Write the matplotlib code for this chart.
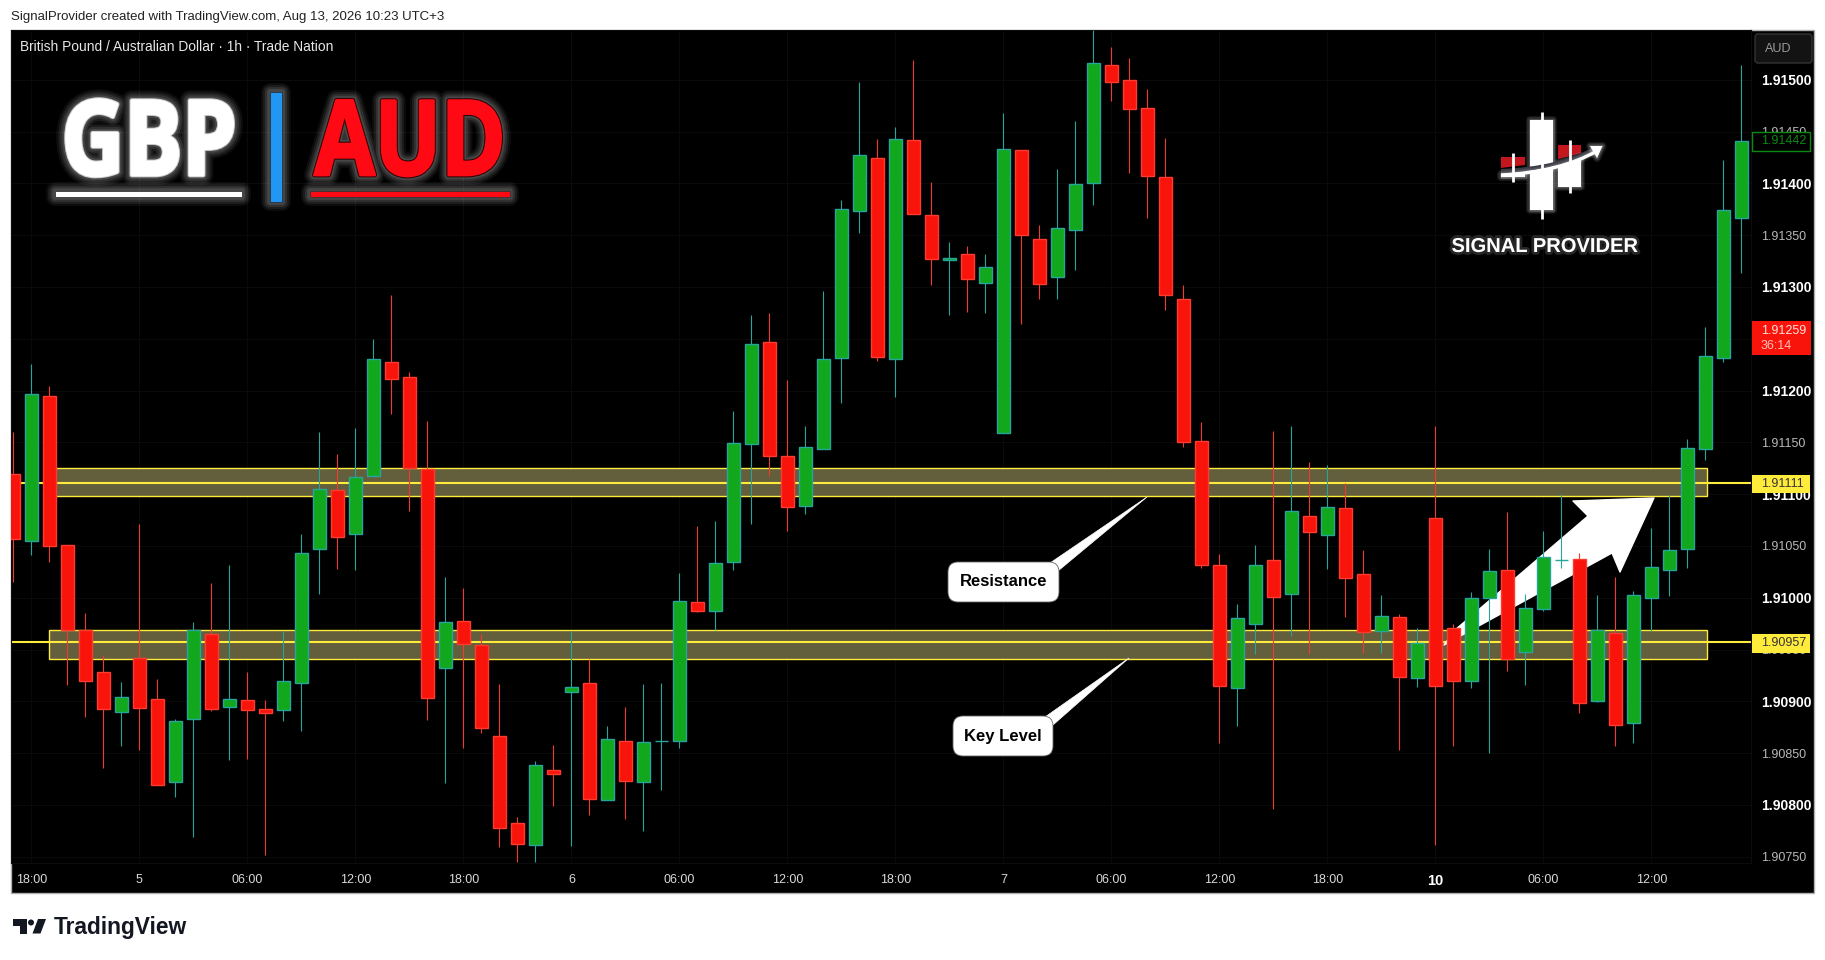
import matplotlib
matplotlib.use('Agg')
import matplotlib.pyplot as plt
import matplotlib.patheffects as pe
from matplotlib.patches import Rectangle, FancyBboxPatch, Polygon, Circle, PathPatch
from matplotlib.path import Path
from matplotlib.transforms import Affine2D

plt.rcParams['font.family'] = ['Liberation Sans', 'DejaVu Sans']

# GBP/AUD 1h candles
opens = [1.91119, 1.91055, 1.91195, 1.91051, 1.90969, 1.90928, 1.90890, 1.90942, 1.90902, 1.90822,
         1.90883, 1.90965, 1.90895, 1.90901, 1.90893, 1.90892, 1.90918, 1.91047, 1.91104, 1.91062,
         1.91118, 1.91228, 1.91213, 1.91124, 1.90932, 1.90978, 1.90954, 1.90867, 1.90783, 1.90761,
         1.90834, 1.90909, 1.90918, 1.90805, 1.90862, 1.90822, 1.90862, 1.90862, 1.90996, 1.90987,
         1.91035, 1.91148, 1.91247, 1.91137, 1.91089, 1.91144, 1.91231, 1.91373, 1.91424, 1.91230,
         1.91442, 1.91369, 1.91326, 1.91332, 1.91304, 1.91159, 1.91432, 1.91346, 1.91310, 1.91355,
         1.91400, 1.91514, 1.91500, 1.91473, 1.91406, 1.91288, 1.91151, 1.91032, 1.90913, 1.90975,
         1.91036, 1.91004, 1.91079, 1.91061, 1.91087, 1.91023, 1.90968, 1.90981, 1.90923, 1.91077,
         1.90971, 1.90920, 1.91000, 1.91027, 1.90948, 1.90989, 1.91036, 1.91037, 1.90900, 1.90966,
         1.90879, 1.91000, 1.91027, 1.91047, 1.91144, 1.91231, 1.91367]
closes = [1.91057, 1.91197, 1.91050, 1.90969, 1.90920, 1.90893, 1.90904, 1.90894, 1.90819, 1.90881,
          1.90969, 1.90893, 1.90902, 1.90892, 1.90889, 1.90920, 1.91043, 1.91105, 1.91059, 1.91117,
          1.91230, 1.91211, 1.91125, 1.90903, 1.90977, 1.90955, 1.90874, 1.90778, 1.90762, 1.90839,
          1.90830, 1.90914, 1.90806, 1.90864, 1.90823, 1.90861, 1.90862, 1.90997, 1.90987, 1.91034,
          1.91149, 1.91245, 1.91137, 1.91088, 1.91146, 1.91230, 1.91375, 1.91427, 1.91232, 1.91443,
          1.91370, 1.91327, 1.91328, 1.91308, 1.91319, 1.91433, 1.91350, 1.91303, 1.91357, 1.91399,
          1.91516, 1.91498, 1.91472, 1.91407, 1.91292, 1.91150, 1.91032, 1.90915, 1.90980, 1.91032,
          1.91001, 1.91084, 1.91063, 1.91088, 1.91019, 1.90967, 1.90982, 1.90924, 1.90956, 1.90915,
          1.90920, 1.91000, 1.91026, 1.90941, 1.90990, 1.91039, 1.91036, 1.90898, 1.90969, 1.90877,
          1.91003, 1.91030, 1.91046, 1.91145, 1.91233, 1.91374, 1.91441]
highs = [1.91160, 1.91226, 1.91204, 1.91051, 1.90985, 1.90945, 1.90919, 1.91071, 1.90922, 1.90883,
         1.90977, 1.91014, 1.91032, 1.90928, 1.90901, 1.90968, 1.91062, 1.91160, 1.91139, 1.91164,
         1.91250, 1.91292, 1.91218, 1.91171, 1.91020, 1.91009, 1.90965, 1.90917, 1.90788, 1.90842,
         1.90858, 1.90968, 1.90941, 1.90876, 1.90895, 1.90917, 1.90918, 1.91024, 1.91069, 1.91074,
         1.91180, 1.91273, 1.91275, 1.91210, 1.91166, 1.91296, 1.91384, 1.91498, 1.91443, 1.91454,
         1.91519, 1.91401, 1.91343, 1.91340, 1.91332, 1.91468, 1.91432, 1.91360, 1.91414, 1.91460,
         1.91548, 1.91532, 1.91521, 1.91491, 1.91444, 1.91302, 1.91170, 1.91042, 1.90994, 1.91051,
         1.91161, 1.91166, 1.91131, 1.91128, 1.91111, 1.91046, 1.91003, 1.90984, 1.90971, 1.91166,
         1.90975, 1.91006, 1.91047, 1.91083, 1.91004, 1.91064, 1.91100, 1.91043, 1.91003, 1.91020,
         1.91007, 1.91067, 1.91099, 1.91153, 1.91261, 1.91423, 1.91514]
lows = [1.91015, 1.91041, 1.91035, 1.90916, 1.90885, 1.90836, 1.90857, 1.90853, 1.90819, 1.90808,
        1.90769, 1.90891, 1.90843, 1.90844, 1.90752, 1.90881, 1.90871, 1.91004, 1.91028, 1.91027,
        1.91118, 1.91177, 1.91084, 1.90882, 1.90821, 1.90855, 1.90869, 1.90759, 1.90745, 1.90745,
        1.90799, 1.90760, 1.90790, 1.90805, 1.90786, 1.90775, 1.90814, 1.90855, 1.90986, 1.90969,
        1.91027, 1.91071, 1.91118, 1.91064, 1.91081, 1.91144, 1.91188, 1.91352, 1.91229, 1.91194,
        1.91370, 1.91302, 1.91273, 1.91276, 1.91275, 1.91159, 1.91264, 1.91288, 1.91288, 1.91316,
        1.91379, 1.91479, 1.91410, 1.91367, 1.91278, 1.91146, 1.91029, 1.90860, 1.90876, 1.90946,
        1.90796, 1.90963, 1.90946, 1.91028, 1.90981, 1.90947, 1.90947, 1.90853, 1.90914, 1.90761,
        1.90857, 1.90913, 1.90850, 1.90929, 1.90916, 1.90987, 1.91029, 1.90889, 1.90899, 1.90857,
        1.90860, 1.90968, 1.91002, 1.91029, 1.91133, 1.91228, 1.91313]

time_ticks = [1, 7, 13, 19, 25, 31, 37, 43, 49, 55, 61, 67, 73, 79, 85, 91]
time_labels = ['18:00', '5', '06:00', '12:00', '18:00', '6', '06:00', '12:00', '18:00', '7',
               '06:00', '12:00', '18:00', '10', '06:00', '12:00']
bold_time = ['10']

price_ticks = [1.9075, 1.9080, 1.9085, 1.9090, 1.9095, 1.9100, 1.9105, 1.9110,
               1.9115, 1.9120, 1.9125, 1.9130, 1.9135, 1.9140, 1.9145, 1.9150]
level_lines = [1.91111, 1.90957]
resistance_band = (1.91098, 1.91125)
key_band = (1.90941, 1.90969)
band_span = (2.0, 94.07)

UP = '#12a81e'
DOWN = '#f8140b'
UP_WICK = '#26a69a'
DOWN_WICK = '#f23b30'
YELLOW = '#ffeb3b'
LOGO_RED = '#ff0a14'

W, H = 1825, 960


class SqueezeStroke(pe.Stroke):
    """Stroke that also narrows the text around cx, for a tighter face than the installed ones."""

    def __init__(self, sx, cx, **kwargs):
        super().__init__(**kwargs)
        self.squeeze = Affine2D().translate(-cx, 0).scale(sx, 1).translate(cx, 0)

    def draw_path(self, renderer, gc, tpath, affine, rgbFace):
        super().draw_path(renderer, gc, tpath, affine + self.squeeze, rgbFace)


def glow_layers():
    return [pe.Stroke(linewidth=lw, foreground='white', alpha=a, joinstyle='round')
            for lw, a in [(13, 0.05), (10, 0.07), (7, 0.09), (4, 0.11)]]


def squeezed_title(sx, cx, outline, fill):
    layers = [SqueezeStroke(sx, cx, linewidth=lw, foreground='white', alpha=a, joinstyle='round')
              for lw, a in [(15, 0.05), (12, 0.07), (9, 0.09), (6, 0.11)]]
    layers.append(SqueezeStroke(sx, cx, linewidth=3.4, foreground=outline, joinstyle='round'))
    layers.append(SqueezeStroke(sx, cx, linewidth=2, foreground=fill, joinstyle='round'))
    return layers


fig = plt.figure(figsize=(W / 100, H / 100), dpi=100, facecolor='white')

# black panel behind the pane and both scales
fig.add_artist(Rectangle((11 / W, 1 - 893 / H), 1803 / W, 863 / H, transform=fig.transFigure,
                         facecolor='black', edgecolor='#b0b0b0', linewidth=1, zorder=-1))

ax = fig.add_axes([11 / W, 1 - 863 / H, 1740 / W, 833 / H], facecolor='black')
ax.set_xlim(-0.133, 96.53)
ax.set_ylim(1.90744, 1.91548)
for s in ax.spines.values():
    s.set_color('#0c0c0c')
ax.set_axisbelow(True)
ax.grid(True, color='#0b0b0b', linewidth=0.7)

ax.set_xticks(time_ticks)
ax.set_xticklabels(time_labels, color='#d8d8d8', fontsize=9)
for t in ax.get_xticklabels():
    if t.get_text() in bold_time:
        t.set_fontweight('bold')
        t.set_fontsize(10.5)
        t.set_color('white')
ax.tick_params(axis='x', length=0, pad=8)

ax.yaxis.tick_right()
ax.set_yticks(price_ticks)
ax.set_yticklabels([f'{p:.5f}' for p in price_ticks], color='#b8b8b8', fontsize=9)
for t, p in zip(ax.get_yticklabels(), price_ticks):
    if round(p * 1e4) % 10 == 0:
        t.set_fontweight('bold')
        t.set_fontsize(10)
        t.set_color('white')
ax.tick_params(axis='y', length=0, pad=7)

# overlay in pixel coordinates, y down
top = fig.add_axes([0, 0, 1, 1], zorder=5)
top.set_xlim(0, W)
top.set_ylim(H, 0)
top.axis('off')
top.patch.set_alpha(0)

# zones and levels
for lo, hi in (resistance_band, key_band):
    ax.add_patch(Rectangle((band_span[0], lo), band_span[1] - band_span[0], hi - lo,
                           facecolor='#635e3c', edgecolor=YELLOW, linewidth=1, zorder=1))
for lvl in level_lines:
    ax.axhline(lvl, color=YELLOW, linewidth=1.5, zorder=2)

# big white arrow sits behind the candles
arrow_pts = [(1444, 645), (1455, 630), (1588, 516), (1573, 501), (1654, 498),
             (1620, 572), (1612, 553)]
ax.add_patch(Polygon(arrow_pts, closed=True, facecolor='white', edgecolor='white',
                     linewidth=1, joinstyle='round', transform=top.transData, zorder=2.5))

# candles
xs = list(range(len(opens)))
up_flags = [c >= o for o, c in zip(opens, closes)]
ax.vlines(xs, lows, highs, colors=[UP_WICK if u else DOWN_WICK for u in up_flags],
          linewidth=0.8, zorder=3)
for x, o, c, u in zip(xs, opens, closes, up_flags):
    ax.bar(x, abs(c - o), bottom=min(o, c), width=0.7, color=UP if u else DOWN,
           edgecolor=UP_WICK if u else '#ff3a2e', linewidth=1, zorder=4)

# header, footer, symbol line
top.text(11, 17, 'SignalProvider created with TradingView.com, Aug 13, 2026 10:23 UTC+3',
         color='#222222', fontsize=9.5, va='center')
top.text(20, 47, 'British Pound / Australian Dollar · 1h · Trade Nation',
         color='#e8e8e8', fontsize=9.9, va='center')

# GBP | AUD title
top.text(149, 175, 'GBP', color='white', fontsize=75, fontweight='bold', ha='center', va='baseline',
         family=['Open Sans'], path_effects=squeezed_title(0.83, 149, '#cccccc', 'white'))
top.text(410, 175, 'AUD', color=LOGO_RED, fontsize=75, fontweight='bold', ha='center', va='baseline',
         family=['Open Sans'], path_effects=squeezed_title(0.84, 410, '#2a0000', LOGO_RED))
for x0, x1, col in [(55, 242, 'white'), (310, 510, LOGO_RED)]:
    top.add_patch(Rectangle((x0, 190.5), x1 - x0, 6.5, facecolor=col, edgecolor='#333333', linewidth=0.6,
                            path_effects=glow_layers() + [pe.Normal()]))
top.add_patch(Rectangle((270.5, 92), 12, 110, facecolor='#2196f3', edgecolor='#223344', linewidth=0.6,
                        path_effects=glow_layers() + [pe.Normal()]))

# Signal Provider logo
soft = [pe.Stroke(linewidth=lw, foreground='white', alpha=a, joinstyle='round')
        for lw, a in [(6, 0.08), (4, 0.12), (2, 0.18)]] + [pe.Normal()]
for wx, wy0, wy1 in [(1541.7, 112, 219), (1513, 153, 182), (1569.7, 140, 193)]:
    top.plot([wx, wx], [wy0, wy1], color='white', linewidth=2, solid_capstyle='butt')
top.add_patch(Rectangle((1530, 120), 23.3, 90, facecolor='white', edgecolor='none', path_effects=soft))
top.add_patch(Polygon([(1501, 157), (1525, 157), (1525, 165), (1501, 168)], facecolor='#c4161f', edgecolor='none'))
top.add_patch(Rectangle((1501, 174), 24, 2.5, facecolor='white', edgecolor='none', path_effects=soft))
top.add_patch(Polygon([(1558, 145), (1581, 145), (1581, 153), (1558, 159)], facecolor='#c4161f', edgecolor='none'))
top.add_patch(Polygon([(1558, 163), (1581, 156), (1581, 187), (1558, 187)], facecolor='white', edgecolor='none',
                      path_effects=soft))
top.add_patch(PathPatch(Path([(1501, 171), (1560, 169), (1596, 148)], [Path.MOVETO, Path.CURVE3, Path.CURVE3]),
                        facecolor='none', edgecolor='#3a3a44', linewidth=3))
top.add_patch(PathPatch(Path([(1501, 175), (1560, 172), (1597, 151)], [Path.MOVETO, Path.CURVE3, Path.CURVE3]),
                        facecolor='none', edgecolor='white', linewidth=2.4, path_effects=soft))
top.add_patch(Polygon([(1590, 146), (1602.5, 146), (1597, 158)], facecolor='white', edgecolor='none', path_effects=soft))
top.text(1545, 246.5, 'SIGNAL PROVIDER', color='white', fontsize=14.5, fontweight='bold',
         ha='center', va='center',
         path_effects=[pe.Stroke(linewidth=4, foreground='white', alpha=0.15), pe.Normal()])

# callouts
callouts = [('Resistance', (948, 562, 111, 40), [(1050, 563), (1058, 571), (1147, 497)], (1003.5, 582)),
            ('Key Level', (953, 716, 100, 40), [(1045, 717), (1053, 725), (1129, 658)], (1003, 736))]
for label, (bx, by, bw, bh), tail, (tx, ty) in callouts:
    top.add_patch(Polygon(tail, closed=True, facecolor='white', edgecolor='white', linewidth=0.5))
    top.add_patch(FancyBboxPatch((bx + 10, by + 10), bw - 20, bh - 20,
                                 boxstyle='round,pad=10,rounding_size=10',
                                 facecolor='white', edgecolor='#666666', linewidth=0.6))
    top.text(tx, ty, label, color='black', fontsize=12, fontweight='bold', ha='center', va='center')

# price scale boxes
top.add_patch(FancyBboxPatch((1757, 36), 53, 25, boxstyle='round,pad=2,rounding_size=3',
                             facecolor='#131313', edgecolor='#333333', linewidth=1))
top.text(1765, 48.5, 'AUD', color='#9a9a9a', fontsize=9, va='center')

top.add_patch(Rectangle((1752, 132), 58, 19, facecolor='black', edgecolor='#0c8a14', linewidth=1))
top.text(1761, 141.5, '1.91442', color='#0c8a14', fontsize=9, va='center')

top.add_patch(Rectangle((1752, 321), 59, 34, facecolor='#f8140b', edgecolor='none'))
top.text(1761, 330.5, '1.91259', color='#ffe0dc', fontsize=9, va='center')
top.text(1761, 346, '36:14', color='#ffc0b8', fontsize=9, va='center')

for lvl_label, by in [('1.91111', 474.5), ('1.90957', 634)]:
    top.add_patch(Rectangle((1752, by), 58, 18.5, facecolor=YELLOW, edgecolor='none'))
    top.text(1761, by + 9.5, lvl_label, color='#333333', fontsize=9, va='center')

# TradingView footer
tv = '#131722'
top.add_patch(Polygon([(13.5, 919), (27, 919), (27, 933.5), (20, 933.5), (20, 926), (13.5, 926)],
                      facecolor=tv, edgecolor='none'))
top.add_patch(Circle((31, 922.5), 3, facecolor=tv, edgecolor='none'))
top.add_patch(Polygon([(38, 919), (46, 919), (40.5, 933.5), (32.5, 933.5)], facecolor=tv, edgecolor='none'))
top.text(54, 927.5, 'TradingView', color=tv, fontsize=16.4, fontweight='bold', va='center')

fig.savefig('out.png', dpi=100, facecolor='white')
